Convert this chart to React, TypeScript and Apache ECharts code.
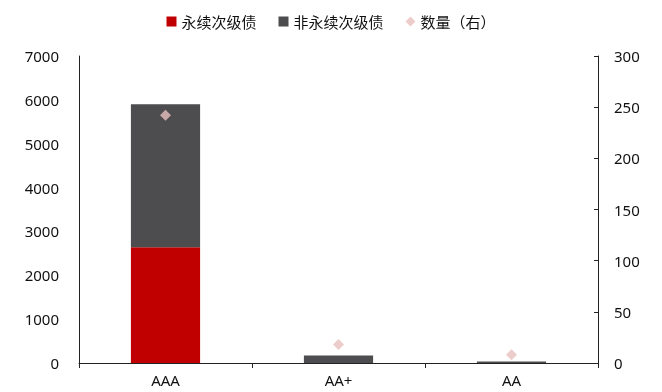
import React, { useEffect, useRef } from "react";
import * as echarts from "echarts";

const categories = ["AAA", "AA+", "AA"];
const perpetual = [2640, 0, 0];
const nonPerpetual = [3260, 170, 35];
const counts = [242, 18, 8];
const seriesNames = ["永续次级债", "非永续次级债", "数量（右）"];

const FONT = "'Noto Sans', 'Noto Sans CJK SC', sans-serif";

export default function App() {
  const ref = useRef<HTMLDivElement>(null);
  useEffect(() => {
    if (!ref.current) return;
    const chart = echarts.init(ref.current, undefined, { renderer: "svg" });
    chart.setOption({
      animation: false,
      textStyle: { fontFamily: FONT },
      legend: {
        top: 9,
        left: "center",
        itemWidth: 10,
        itemHeight: 10,
        itemGap: 22,
        textStyle: { fontSize: 15, color: "#111", fontFamily: "'Noto Sans CJK SC', sans-serif" },
        data: [
          { name: seriesNames[0], icon: "rect" },
          { name: seriesNames[1], icon: "rect" },
          { name: seriesNames[2], icon: "diamond" },
        ],
      },
      grid: { left: 79, right: 64, top: 56, bottom: 29 },
      xAxis: {
        type: "category",
        data: categories,
        axisLine: { lineStyle: { color: "#222", width: 1 } },
        axisTick: { show: true, alignWithLabel: false, length: 5, lineStyle: { color: "#222" } },
        axisLabel: { color: "#111", fontSize: 15, margin: 8, lineHeight: 18 },
      },
      yAxis: [
        {
          type: "value",
          min: 0,
          max: 7000,
          interval: 1000,
          splitLine: { show: false },
          axisLine: { show: true, lineStyle: { color: "#222" } },
          axisTick: { show: false },
          axisLabel: { color: "#111", fontSize: 15, margin: 20, formatter: (v: number) => String(v) },
        },
        {
          type: "value",
          min: 0,
          max: 300,
          interval: 50,
          splitLine: { show: false },
          axisLine: { show: true, lineStyle: { color: "#222" } },
          axisTick: { show: true, inside: true, length: 4, lineStyle: { color: "#222" } },
          axisLabel: { color: "#111", fontSize: 15, margin: 16, formatter: (v: number) => String(v) },
        },
      ],
      series: [
        {
          name: seriesNames[0],
          type: "bar",
          stack: "total",
          data: perpetual,
          barWidth: "40%",
          itemStyle: { color: "#C00000" },
        },
        {
          name: seriesNames[1],
          type: "bar",
          stack: "total",
          data: nonPerpetual,
          barWidth: "40%",
          itemStyle: { color: "#4D4D4F" },
        },
        {
          name: seriesNames[2],
          type: "scatter",
          yAxisIndex: 1,
          data: counts,
          symbol: "diamond",
          symbolSize: 11,
          itemStyle: { color: "#E8BFBF" },
        },
      ],
    });
    return () => chart.dispose();
  }, []);
  return (
    <div
      ref={ref}
      style={{ position: "fixed", left: 0, top: 0, width: 662, height: 392 }}
    />
  );
}
